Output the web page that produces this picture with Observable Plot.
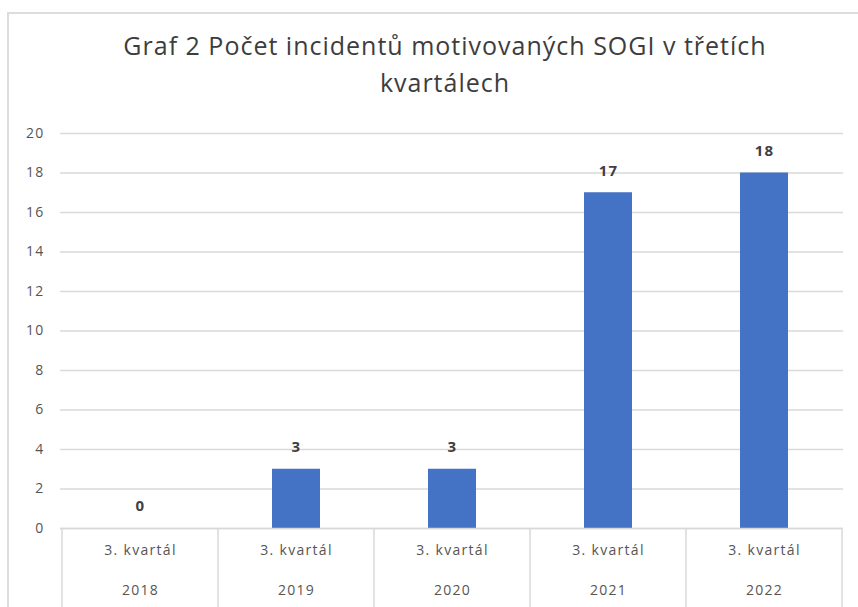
<!DOCTYPE html>
<html>
<head>
<meta charset="utf-8">
<script src="https://cdn.jsdelivr.net/npm/d3@7"></script>
<script src="https://cdn.jsdelivr.net/npm/@observablehq/plot@0.6"></script>
<style>
  html, body { margin: 0; padding: 0; background: #fff; }
  body { width: 858px; height: 607px; position: relative; overflow: hidden; font-family: "Open Sans", sans-serif; }
  #frame { position: absolute; left: 7px; top: 12px; width: 900px; height: 700px; border-left: 2px solid #dcdcdc; border-top: 2px solid #dcdcdc; }
  #title { position: absolute; left: 0; top: 27px; width: 890px; text-align: center; font-size: 25px; letter-spacing: 1px; line-height: 37px; color: #3d3d3d; }
  #chart { position: absolute; left: 0; top: 0; }
</style>
</head>
<body>
<div id="frame"></div>
<div id="chart"></div>
<div id="title">Graf 2 Počet incidentů motivovaných SOGI v třetích<br>kvartálech</div>
<script>
const years = ["2018", "2019", "2020", "2021", "2022"];
const quarterLabels = ["3. kvartál", "3. kvartál", "3. kvartál", "3. kvartál", "3. kvartál"];
const counts = [0, 3, 3, 17, 18];
const yTicks = [0, 2, 4, 6, 8, 10, 12, 14, 16, 18, 20];

const data = years.map((y, i) => ({year: y, quarter: quarterLabels[i], count: counts[i]}));

function separators(index, scales, values, dimensions) {
  const x = scales.x;
  const bw = x.bandwidth();
  const top = dimensions.height - dimensions.marginBottom;
  const g = d3.create("svg:g").attr("stroke", "#d9d9d9").attr("stroke-width", 1.5);
  const xs = years.map(y => x(y)).concat([x(years[years.length - 1]) + bw]);
  for (const xv of xs) {
    g.append("line").attr("x1", xv).attr("x2", xv).attr("y1", top).attr("y2", dimensions.height);
  }
  return g.node();
}

const plot = Plot.plot({
  width: 858,
  height: 607,
  marginTop: 133,
  marginBottom: 79,
  marginLeft: 60,
  marginRight: 15,
  style: {fontFamily: "'Open Sans', sans-serif", fontSize: "14px", color: "#595959", background: "transparent", letterSpacing: "1.3px"},
  x: {domain: years, padding: 0, axis: null},
  y: {domain: [0, 20], axis: null},
  marks: [
    Plot.gridY(yTicks, {stroke: "#d9d9d9", strokeOpacity: 1, strokeWidth: 1.5}),
    Plot.axisY(yTicks, {tickSize: 0, tickPadding: 16, label: null, fill: "#555555", fontSize: 14}),
    Plot.barY(data, {x: "year", y: "count", fill: "#4472C4", insetLeft: 54, insetRight: 54}),
    Plot.ruleY([0], {stroke: "#d9d9d9", strokeWidth: 1.5}),
    Plot.text(data, {x: "year", y: "count", text: d => String(d.count), dy: -22, fontWeight: "bold", fontSize: 15, fill: "#404040"}),
    Plot.text(data, {x: "year", text: "quarter", frameAnchor: "bottom", dy: 26, fill: "#555555", fontSize: 14}),
    Plot.text(data, {x: "year", text: "year", frameAnchor: "bottom", dy: 66, fill: "#555555", fontSize: 14}),
    separators
  ]
});
document.getElementById("chart").appendChild(plot);
</script>
</body>
</html>
